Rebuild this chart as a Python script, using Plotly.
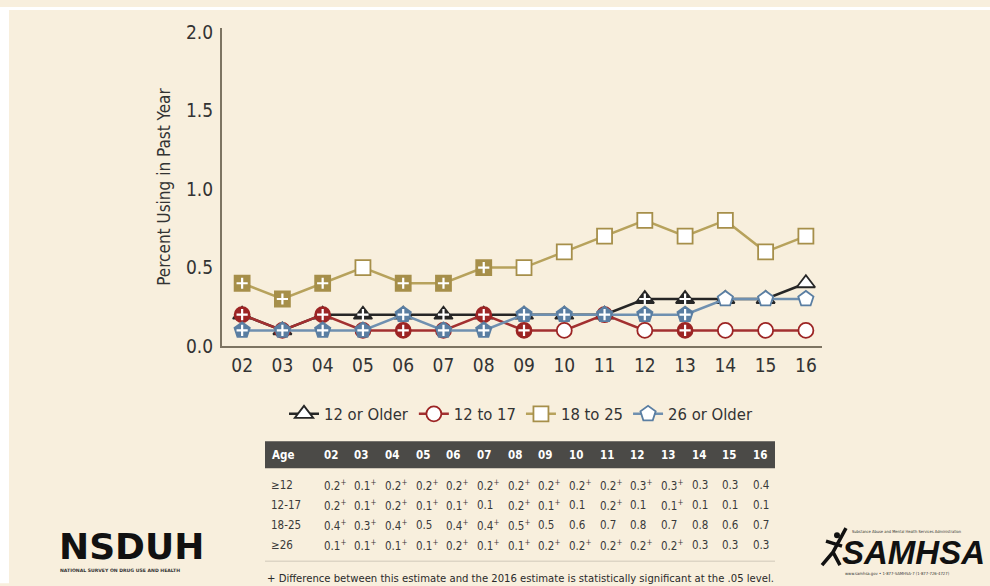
import plotly.graph_objects as go

# ---------------- data ----------------
years = ["02", "03", "04", "05", "06", "07", "08", "09", "10", "11", "12", "13", "14", "15", "16"]
series_names = ["12 or Older", "12 to 17", "18 to 25", "26 or Older"]
row_labels = ["≥12", "12-17", "18-25", "≥26"]

age12_older = [0.2, 0.1, 0.2, 0.2, 0.2, 0.2, 0.2, 0.2, 0.2, 0.2, 0.3, 0.3, 0.3, 0.3, 0.4]
age12_17 = [0.2, 0.1, 0.2, 0.1, 0.1, 0.1, 0.2, 0.1, 0.1, 0.2, 0.1, 0.1, 0.1, 0.1, 0.1]
age18_25 = [0.4, 0.3, 0.4, 0.5, 0.4, 0.4, 0.5, 0.5, 0.6, 0.7, 0.8, 0.7, 0.8, 0.6, 0.7]
age26_older = [0.1, 0.1, 0.1, 0.1, 0.2, 0.1, 0.1, 0.2, 0.2, 0.2, 0.2, 0.2, 0.3, 0.3, 0.3]

# significance flags (+ : differs from 2016 estimate)
sig12_older = [1, 1, 1, 1, 1, 1, 1, 1, 1, 1, 1, 1, 0, 0, 0]
sig12_17 = [1, 1, 1, 1, 1, 0, 1, 1, 0, 1, 0, 1, 0, 0, 0]
sig18_25 = [1, 1, 1, 0, 1, 1, 1, 0, 0, 0, 0, 0, 0, 0, 0]
sig26_older = [1, 1, 1, 1, 1, 1, 1, 1, 1, 1, 1, 1, 0, 0, 0]

values = [age12_older, age12_17, age18_25, age26_older]
sigs = [sig12_older, sig12_17, sig18_25, sig26_older]

# ---------------- style ----------------
colors = ["#262626", "#9c2424", "#a68f4a", "#5a7ea2"]
line_colors = ["#262626", "#a23030", "#b7a25c", "#6f90b0"]
symbols = ["triangle-up", "circle", "square", "pentagon"]
sizes = [16, 15, 15, 16]
BG = "#f8efdd"
FONT = "DejaVu Sans Condensed, Liberation Sans Narrow, Arial Narrow, sans-serif"
W, H = 990, 586
# observed vertical placement of the page in the screenshot
Y_OFF, Y_SC = 7.0, 0.969


def px(x):
    return x / W


def py(y):
    return 1 - ((y - Y_OFF) / Y_SC) / H


fig = go.Figure()

for i in range(4):
    c = colors[i]
    fig.add_trace(go.Scatter(
        x=years, y=values[i], mode="lines+markers", showlegend=False,
        line=dict(color=line_colors[i], width=2.5),
        marker=dict(symbol=symbols[i], size=sizes[i],
                    color=[c if s else "white" for s in sigs[i]],
                    line=dict(color=c, width=1.8)),
        cliponaxis=False, hoverinfo="x+y"))
    sx = [yr for yr, s in zip(years, sigs[i]) if s]
    sy = [v for v, s in zip(values[i], sigs[i]) if s]
    fig.add_trace(go.Scatter(
        x=sx, y=sy, mode="markers", showlegend=False, hoverinfo="skip",
        marker=dict(symbol="cross-thin", size=8, line=dict(color="white", width=2.2)),
        cliponaxis=False))

for i in range(4):
    fig.add_trace(go.Scatter(
        x=[None], y=[None], mode="lines+markers", name=series_names[i],
        line=dict(color=line_colors[i], width=2.5),
        marker=dict(symbol=symbols[i], size=sizes[i], color="white",
                    line=dict(color=colors[i], width=1.8))))

# ---------------- table (annotations) ----------------
shapes = []
annotations = []
tbl_x0, tbl_x1 = 265, 775
shapes.append(dict(type="rect", xref="paper", yref="paper", x0=px(tbl_x0), x1=px(tbl_x1),
                   y0=py(468), y1=py(441), fillcolor="#4b4a47", line=dict(width=0), layer="above"))
col_x = [330.7 + 30.66 * j for j in range(len(years))]
annotations.append(dict(text="<b>Age</b>", x=px(270), y=py(455), xref="paper", yref="paper",
                        xanchor="left", yanchor="middle", showarrow=False,
                        font=dict(family=FONT, size=11.5, color="white")))
for j, yr in enumerate(years):
    annotations.append(dict(text="<b>%s</b>" % yr, x=px(col_x[j]), y=py(455), xref="paper", yref="paper",
                            xanchor="center", yanchor="middle", showarrow=False,
                            font=dict(family=FONT, size=11.5, color="white")))
row_y = [485, 505, 525, 545]
for i in range(4):
    annotations.append(dict(text=row_labels[i], x=px(269), y=py(row_y[i]), xref="paper", yref="paper",
                            xanchor="left", yanchor="middle", showarrow=False,
                            font=dict(family=FONT, size=11.5, color="#3a3a3a")))
    for j in range(len(years)):
        t = "%.1f" % values[i][j] + ("<sup>+</sup>" if sigs[i][j] else "")
        annotations.append(dict(text=t, x=px(col_x[j] - 9), y=py(row_y[i]), xref="paper", yref="paper",
                                xanchor="left", yanchor="middle", showarrow=False,
                                font=dict(family=FONT, size=11.5, color="#3a3a3a")))
shapes.append(dict(type="line", xref="paper", yref="paper", x0=px(tbl_x0), x1=px(tbl_x1),
                   y0=py(561), y1=py(561), line=dict(color="#ddd5c5", width=1.5)))
annotations.append(dict(text="+ Difference between this estimate and the 2016 estimate is statistically significant at the .05 level.",
                        x=px(265), y=py(578), xref="paper", yref="paper", xanchor="left", yanchor="middle",
                        showarrow=False, font=dict(family=FONT, size=11.2, color="#2a2a2a")))

# ---------------- logos ----------------
annotations.append(dict(text="<b>NSDUH</b>", x=px(131), y=py(546), xref="paper", yref="paper",
                        xanchor="center", yanchor="middle", showarrow=False,
                        font=dict(family="DejaVu Sans", size=36, color="#111111")))
annotations.append(dict(text="<b>NATIONAL SURVEY ON DRUG USE AND HEALTH</b>", x=px(58), y=py(570),
                        xref="paper", yref="paper", xanchor="left", yanchor="middle", showarrow=False,
                        font=dict(family="DejaVu Sans", size=4.6, color="#333333")))
annotations.append(dict(text="<b><i>SAMHSA</i></b>", x=px(913), y=py(552), xref="paper", yref="paper",
                        xanchor="center", yanchor="middle", showarrow=False,
                        font=dict(family="Liberation Sans", size=33, color="#111111")))
annotations.append(dict(text="Substance Abuse and Mental Health Services Administration", x=px(850), y=py(531),
                        xref="paper", yref="paper", xanchor="left", yanchor="middle", showarrow=False,
                        font=dict(family="DejaVu Sans Condensed, DejaVu Sans", size=4, color="#333333")))
annotations.append(dict(text="www.samhsa.gov • 1-877-SAMHSA-7 (1-877-726-4727)", x=px(843), y=py(573),
                        xref="paper", yref="paper", xanchor="left", yanchor="middle", showarrow=False,
                        font=dict(family="DejaVu Sans Condensed, DejaVu Sans", size=4.2, color="#333333")))
# small figure of SAMHSA logo
shapes.append(dict(type="circle", xref="paper", yref="paper", x0=px(834), x1=px(840), y0=py(538), y1=py(532),
                   fillcolor="#111111", line=dict(width=0)))
fig_path = "M %f %f L %f %f L %f %f M %f %f L %f %f M %f %f L %f %f" % (
    px(846), py(528), px(833), py(552), px(822), py(565),
    px(833), py(552), px(840), py(565),
    px(826), py(541), px(842), py(546))
shapes.append(dict(type="path", xref="paper", yref="paper", path=fig_path,
                   line=dict(color="#111111", width=3.5)))

# white border around beige panel
for (x0, x1, y0, y1) in [(0, 9, Y_OFF, 583), (0, W, Y_OFF, 10)]:
    shapes.append(dict(type="rect", xref="paper", yref="paper", x0=px(x0), x1=px(x1), y0=py(y1), y1=py(y0),
                       fillcolor="white", line=dict(width=0), layer="above"))

fig.update_layout(
    width=W, height=H,
    margin=dict(l=0, r=0, t=0, b=0),
    paper_bgcolor=BG, plot_bgcolor="rgba(0,0,0,0)",
    font=dict(family=FONT, color="#333333"),
    xaxis=dict(domain=[px(222), px(822)], type="category", range=[-0.5, 14.4],
               showgrid=False, zeroline=False, showline=True, linecolor="#7d7462", linewidth=2,
               ticks="outside", ticklen=1, tickcolor="rgba(0,0,0,0)",
               tickfont=dict(family=FONT, size=19, color="#333333")),
    yaxis=dict(domain=[py(346), py(28)], range=[0, 2.025], tickvals=[0, 0.5, 1.0, 1.5, 2.0],
               tickformat=".1f", showgrid=False, zeroline=False, showline=True, linecolor="#7d7462",
               linewidth=2, ticks="outside", ticklen=3, tickcolor="rgba(0,0,0,0)",
               tickfont=dict(family=FONT, size=19, color="#333333"),
               title=dict(text="Percent Using in Past Year", standoff=11,
                          font=dict(family=FONT, size=17, color="#333333"))),
    legend=dict(orientation="h", x=px(521), xanchor="center", y=py(414), yanchor="middle",
                bgcolor="rgba(0,0,0,0)", font=dict(family=FONT, size=16.5, color="#333333"),
                itemwidth=30),
    shapes=shapes, annotations=annotations,
)

fig.write_html(
    "out.html",
    config={"displayModeBar": False},
    post_script=("document.body.style.margin='0px';document.body.style.overflow='hidden';"
                 "document.body.style.background='linear-gradient(to bottom, #ffffff 0px, #ffffff 7px, "
                 + BG + " 7px, " + BG + " 601px, #ffffff 601px)';"),
)
